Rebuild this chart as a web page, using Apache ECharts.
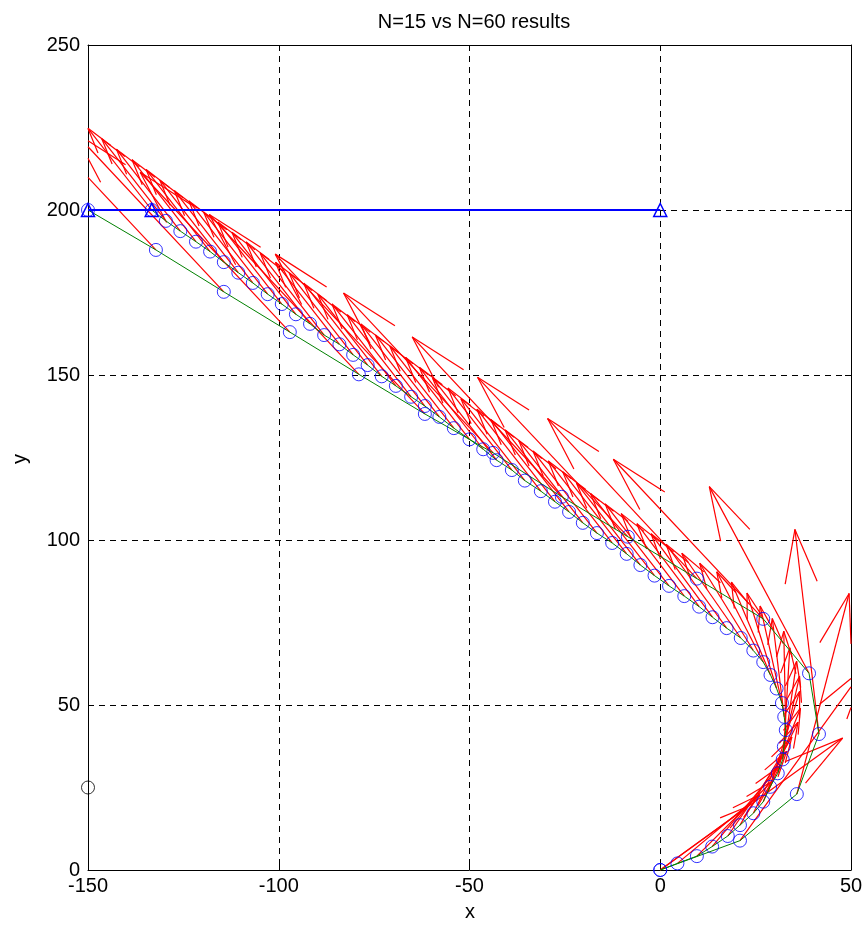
<!DOCTYPE html>
<html><head><meta charset="utf-8">
<script src="https://cdn.jsdelivr.net/npm/echarts@6/dist/echarts.min.js"></script>
<style>html,body{margin:0;padding:0;background:#fff}#c{width:867px;height:930px}</style>
</head><body><div id="c"></div>
<script>
// ---- N=15 solution (node positions and control angle in degrees) ----
const x15 = [-150, -132.2, -114.4, -97.1, -79.0, -61.7, -43.8, -25.8, -8.5, 9.6, 27.0, 39.0, 41.6, 35.8, 20.9, 0];
const y15 = [200, 187.9, 175.2, 163.0, 150.2, 138.2, 126.4, 113.1, 101.0, 88.3, 76.1, 59.6, 41.2, 23.0, 8.9, 0];
const ang15 = [129, 129, 129, 129, 129, 129, 129, 129, 129.2, 128.9, 129.1, 114.8, 95.8, 77.3, 58, 39.9];

// ---- N=60 solution ----
const x60 = [-133.3,-129.6,-125.8,-121.7,-118.0,-114.4,-110.6,-106.8,-102.9,-99.2,-95.5,-91.8,-88.1,-84.1,-80.5,-76.7,-73.0,-69.3,-65.3,-61.7,-57.9,-54.1,-50.0,-46.4,-42.9,-38.9,-35.5,-31.3,-27.6,-23.9,-20.3,-16.6,-12.6,-8.8,-5.2,-1.5,2.3,6.3,10.2,13.7,17.4,21.1,24.4,27.0,28.9,30.5,31.9,32.5,32.9,32.4,32.1,30.8,28.8,27.0,24.4,20.9,17.7,13.6,9.6,4.5,0];
const y60 = [200,196.7,193.6,190.4,187.4,184.2,181.0,177.9,174.5,171.5,168.4,165.5,162.1,159.3,156.1,153.0,149.6,146.7,143.4,140.6,137.3,133.9,130.5,127.5,124.2,121.2,118.0,114.8,111.6,108.5,105.2,102.1,99.1,95.8,92.4,89.2,86.1,83.0,79.8,76.6,73.3,70.3,66.5,63.0,59.1,55.0,50.6,46.4,42.4,37.4,33.5,29.3,25.2,20.7,17.2,13.6,10.3,7.1,4.2,2.0,0];
const ang60 = [124,124,124,124,124,124,124,124,124,124,124,124,124,124,124,124,124,124,124,124,124,124,124,124,124,124,124,124,124,124,124,124,124,124,124,124,124,123.5,123,122.5,122,121,118,114,110,105,101,96,91,87,83,79,75,71,67,63,59,54,49,44,40];

// ---- target line and extra marker ----
const xTarget = [-150, -133.3, 0];
const yTarget = [200, 200, 200];
const xBlack = [-150];
const yBlack = [25];

// axes
const xMin = -150, xMax = 50, xStep = 50;
const yMin = 0, yMax = 250, yStep = 50;

// MATLAB-style quiver autoscale of unit vectors
function autoLen(xs, ys) {
  const n = Math.sqrt(xs.length);
  const dx = (Math.max(...xs) - Math.min(...xs)) / n;
  const dy = (Math.max(...ys) - Math.min(...ys)) / n;
  return 0.9 * Math.sqrt(dx * dx + dy * dy);
}
function quiverSegs(xs, ys, angs) {
  const L = autoLen(xs, ys), alpha = 0.26, beta = 0.26;
  const segs = [];
  for (let i = 0; i < xs.length; i++) {
    const a = angs[i] * Math.PI / 180;
    const u = L * Math.cos(a), v = L * Math.sin(a);
    const tx = xs[i] + u, ty = ys[i] + v;
    segs.push([xs[i], ys[i], tx, ty]);
    segs.push([tx - alpha * (u + beta * v), ty - alpha * (v - beta * u), tx, ty]);
    segs.push([tx - alpha * (u - beta * v), ty - alpha * (v + beta * u), tx, ty]);
  }
  return segs;
}
const arrowSegs = quiverSegs(x15, y15, ang15).concat(quiverSegs(x60, y60, ang60));

function clipSeg(p, q, r) {
  let t0 = 0, t1 = 1;
  const dx = q[0] - p[0], dy = q[1] - p[1];
  const P = [-dx, dx, -dy, dy];
  const Q = [p[0] - r.x, r.x + r.width - p[0], p[1] - r.y, r.y + r.height - p[1]];
  for (let i = 0; i < 4; i++) {
    if (P[i] === 0) { if (Q[i] < 0) return null; }
    else {
      const t = Q[i] / P[i];
      if (P[i] < 0) { if (t > t1) return null; if (t > t0) t0 = t; }
      else { if (t < t0) return null; if (t < t1) t1 = t; }
    }
  }
  return [p[0] + t0 * dx, p[1] + t0 * dy, p[0] + t1 * dx, p[1] + t1 * dy];
}

const pairs = (xs, ys) => xs.map((x, i) => [x, ys[i]]);
const font = 'Liberation Sans, Arial, sans-serif';
const dashed = { color: '#000', width: 1, type: [6, 5] };

const chart = echarts.init(document.getElementById('c'), null, { renderer: 'canvas' });
chart.setOption({
  animation: false,
  backgroundColor: '#fff',
  title: { text: 'N=15 vs N=60 results', left: 469, top: 7, textAlign: 'center',
    textStyle: { fontFamily: font, fontSize: 20, fontWeight: 'normal', color: '#000' } },
  grid: { left: 88, right: 16, top: 45, bottom: 60 },
  xAxis: [
    { type: 'value', min: xMin, max: xMax, interval: xStep, position: 'bottom',
      axisLine: { show: true, onZero: false, lineStyle: { color: '#000', width: 1 } },
      axisTick: { show: true, inside: true, length: 6, lineStyle: { color: '#000' } },
      axisLabel: { color: '#000', fontFamily: font, fontSize: 20, margin: 6 },
      splitLine: { show: true, lineStyle: dashed } },
    { type: 'value', min: xMin, max: xMax, interval: xStep, position: 'top',
      axisLine: { show: true, onZero: false, lineStyle: { color: '#000', width: 1 } },
      axisTick: { show: true, inside: true, length: 6, lineStyle: { color: '#000' } },
      axisLabel: { show: false }, splitLine: { show: false } }
  ],
  yAxis: [
    { type: 'value', min: yMin, max: yMax, interval: yStep, position: 'left',
      axisLine: { show: true, onZero: false, lineStyle: { color: '#000', width: 1 } },
      axisTick: { show: true, inside: true, length: 6, lineStyle: { color: '#000' } },
      axisLabel: { color: '#000', fontFamily: font, fontSize: 20, margin: 8 },
      splitLine: { show: true, lineStyle: dashed } },
    { type: 'value', min: yMin, max: yMax, interval: yStep, position: 'right',
      axisLine: { show: true, onZero: false, lineStyle: { color: '#000', width: 1 } },
      axisTick: { show: true, inside: true, length: 6, lineStyle: { color: '#000' } },
      axisLabel: { show: false }, splitLine: { show: false } }
  ],
  graphic: [
    { type: 'text', x: 470, y: 912, style: { text: 'x', font: '20px ' + font, fill: '#000', align: 'center', verticalAlign: 'middle' } },
    { type: 'text', x: 20, y: 459, rotation: Math.PI / 2, style: { text: 'y', font: '20px ' + font, fill: '#000', align: 'center', verticalAlign: 'middle' } }
  ],
  series: [
    { type: 'custom', name: 'arrows', data: arrowSegs, z: 1,
      renderItem: function (params, api) {
        const p = api.coord([api.value(0), api.value(1)]);
        const q = api.coord([api.value(2), api.value(3)]);
        const c = clipSeg(p, q, params.coordSys);
        if (!c) return null;
        return { type: 'line', shape: { x1: c[0], y1: c[1], x2: c[2], y2: c[3] },
          style: { stroke: '#ff0000', lineWidth: 1.2 } };
      } },
    { type: 'line', data: pairs(x15, y15), showSymbol: false, z: 2,
      lineStyle: { color: '#008000', width: 1 } },
    { type: 'line', data: pairs(x60, y60), showSymbol: false, z: 2,
      lineStyle: { color: '#008000', width: 1 } },
    { type: 'scatter', data: pairs(x15, y15), symbol: 'circle', symbolSize: 13, z: 3,
      itemStyle: { color: 'rgba(0,0,0,0)', borderColor: '#0000ff', borderWidth: 1 } },
    { type: 'scatter', data: pairs(x60, y60), symbol: 'circle', symbolSize: 13, z: 3,
      itemStyle: { color: 'rgba(0,0,0,0)', borderColor: '#0000ff', borderWidth: 1 } },
    { type: 'line', data: pairs(xTarget, yTarget), symbol: 'triangle', symbolSize: 13, showSymbol: true, z: 4,
      lineStyle: { color: '#0000ff', width: 2 },
      itemStyle: { color: 'rgba(0,0,0,0)', borderColor: '#0000ff', borderWidth: 1.5 } },
    { type: 'scatter', data: pairs(xBlack, yBlack), symbol: 'circle', symbolSize: 13, z: 4,
      itemStyle: { color: 'rgba(0,0,0,0)', borderColor: '#000', borderWidth: 1 } }
  ]
});
</script></body></html>
